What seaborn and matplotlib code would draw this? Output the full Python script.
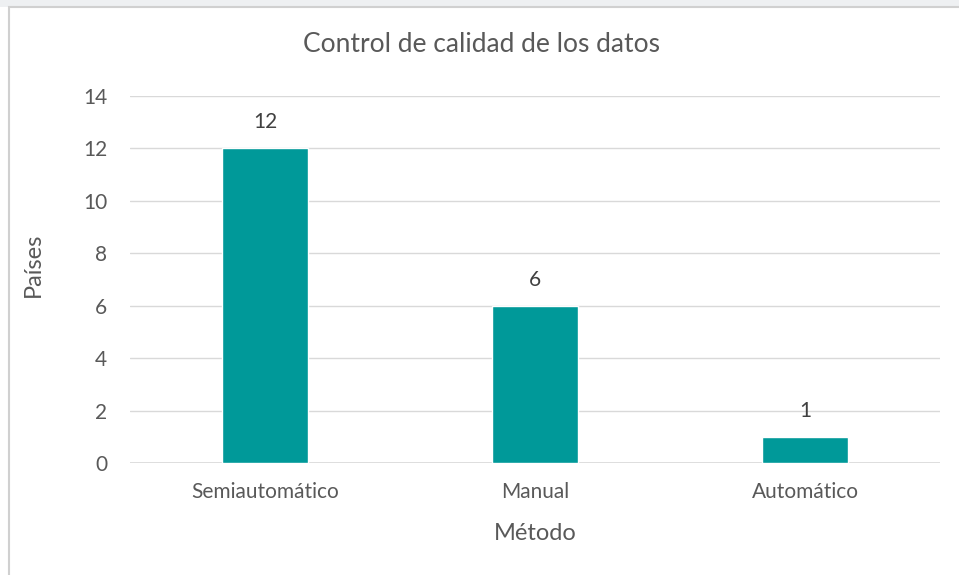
import matplotlib
matplotlib.use("Agg")
import matplotlib.pyplot as plt
import matplotlib.patches as mpatches
import pandas as pd
import seaborn as sns

metodos = ["Semiautomático", "Manual", "Automático"]
paises = [12, 6, 1]
y_ticks = [0, 2, 4, 6, 8, 10, 12, 14]

TEXT = "#595959"
BAR = "#009999"
GRID = "#d9d9d9"

sns.set_theme(style="white")
plt.rcParams["font.family"] = ["Lato", "DejaVu Sans"]

df = pd.DataFrame({"Método": metodos, "Países": paises})

fig = plt.figure(figsize=(9.59, 5.75), dpi=100)
# faint band above the chart frame and the frame itself (behind the axes)
fig.patches.append(mpatches.Rectangle((0, 1 - 7 / 575), 1, 7 / 575, transform=fig.transFigure,
                                      facecolor="#eef0f2", edgecolor="none", zorder=-2))
fig.patches.append(mpatches.Rectangle((9 / 959, -0.05), 1.1, 1.05 - 7 / 575, transform=fig.transFigure,
                                      facecolor="white", edgecolor="#d0d0d0", linewidth=1.5, zorder=-1))

ax = fig.add_axes([130 / 959, 1 - 463 / 575, 810 / 959, 367 / 575])
ax.set_facecolor("none")
sns.barplot(data=df, x="Método", y="Países", color=BAR, width=0.32, saturation=1, ax=ax, zorder=3)

for i, v in enumerate(paises):
    ax.text(i, v + 1.0, str(v), ha="center", va="center", fontsize=15, color="#404040")

ax.set_ylim(0, 14)
ax.set_xlim(-0.5, 2.5)
ax.set_yticks(y_ticks)
ax.yaxis.grid(True, color=GRID, linewidth=1, zorder=0)
ax.set_axisbelow(True)
for s in ax.spines.values():
    s.set_visible(False)
ax.axhline(0, color=GRID, linewidth=1.2, zorder=1)
ax.tick_params(axis="both", length=0, labelsize=15, labelcolor=TEXT)
ax.tick_params(axis="y", pad=16.5)
ax.tick_params(axis="x", pad=14)

ax.set_xlabel("Método", fontsize=17, color=TEXT, va="center")
ax.xaxis.set_label_coords(0.5, (463 - 534) / 367)
ax.set_ylabel("Países", fontsize=17, color=TEXT, va="center")
ax.yaxis.set_label_coords((33 - 130) / 810, (463 - 265) / 367)

fig.text(481 / 959, 1 - 45 / 575, "Control de calidad de los datos",
         ha="center", va="center", fontsize=19, color=TEXT)

plt.savefig("out.png", dpi=100)
